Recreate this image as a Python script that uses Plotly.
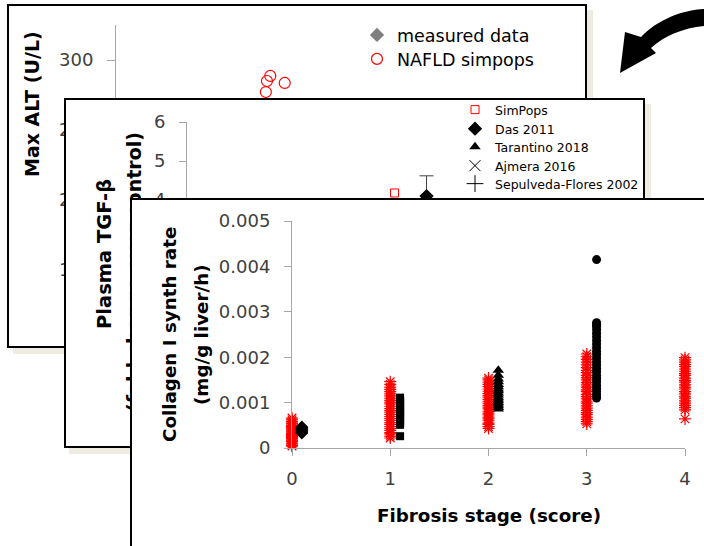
import plotly.graph_objects as go

W, H = 704, 546
FONT = "DejaVu Sans"
AX_GRAY = "#a6a6a6"
TXT_GRAY = "#404040"
SHADOW = "#eeece1"
RED = "#ff0000"

# ---------------- data ----------------
# Panel 1: Max ALT (U/L) -- visible simulated points (rest of the panel is hidden)
alt_sim_stage = [1.39, 1.36, 1.52, 1.35]
alt_sim_value = [288.6, 285.0, 283.6, 277.1]
alt_meas_stage = [1.5, 2.5]
alt_meas_value = [190, 230]

# Panel 2: Plasma TGF-beta (fold control)
tgf_sim_x = [2.01]
tgf_sim_y = [4.18]
tgf_das_x = [2.32]
tgf_das_y = [4.10]
tgf_das_err = [0.52]
tgf_tar_x = [2.6]
tgf_tar_y = [2.4]
tgf_ajm_x = [2.9]
tgf_ajm_y = [1.9]
tgf_sep_x = [3.2]
tgf_sep_y = [1.5]

# Panel 3: Collagen I synthesis rate vs fibrosis stage
stage_ticks = [0, 1, 2, 3, 4]
meas_offset = 0.1

coll_sim_s0 = [0.00004, 0.00006, 0.00009, 0.00011, 0.00014, 0.00016, 0.00018, 0.00021, 0.00023,
               0.00025, 0.00028, 0.00030, 0.00032, 0.00035, 0.00037, 0.00040, 0.00042, 0.00045,
               0.00047, 0.00050, 0.00053, 0.00055, 0.00058, 0.00062, 0.00066]
coll_sim_s1 = [0.00022, 0.00026, 0.00031, 0.00034, 0.00039, 0.00043, 0.00047, 0.00052, 0.00056,
               0.00061, 0.00065, 0.00069, 0.00074, 0.00079, 0.00083, 0.00087, 0.00092, 0.00097,
               0.00101, 0.00105, 0.00110, 0.00115, 0.00119, 0.00124, 0.00129, 0.00134, 0.00140,
               0.00146]
coll_sim_s2 = [0.00043, 0.00047, 0.00052, 0.00055, 0.00060, 0.00064, 0.00068, 0.00073, 0.00077,
               0.00081, 0.00086, 0.00090, 0.00094, 0.00099, 0.00103, 0.00107, 0.00112, 0.00116,
               0.00120, 0.00125, 0.00130, 0.00135, 0.00140, 0.00145, 0.00150, 0.00154]
coll_sim_s3 = [0.00053, 0.00058, 0.00063, 0.00068, 0.00074, 0.00078, 0.00083, 0.00088, 0.00093,
               0.00099, 0.00103, 0.00108, 0.00113, 0.00118, 0.00124, 0.00128, 0.00134, 0.00139,
               0.00144, 0.00150, 0.00155, 0.00160, 0.00166, 0.00171, 0.00177, 0.00183, 0.00189,
               0.00195, 0.00201, 0.00207]
coll_sim_s4 = [0.00064, 0.00084, 0.00089, 0.00094, 0.00099, 0.00104, 0.00110, 0.00114, 0.00119,
               0.00124, 0.00130, 0.00134, 0.00139, 0.00145, 0.00149, 0.00154, 0.00160, 0.00164,
               0.00169, 0.00174, 0.00180, 0.00184, 0.00189, 0.00194, 0.00199]

coll_meas_s0 = [0.00033, 0.00036, 0.00039, 0.00042, 0.00044, 0.00046]
coll_meas_s1 = [0.00026, 0.00051, 0.00055, 0.00059, 0.00063, 0.00067, 0.00071, 0.00075, 0.00079,
                0.00083, 0.00087, 0.00091, 0.00095, 0.00099, 0.00103, 0.00107, 0.00111]
coll_meas_s2 = [0.00086, 0.00089, 0.00093, 0.00097, 0.00100, 0.00104, 0.00108, 0.00112, 0.00117,
                0.00121, 0.00126, 0.00130, 0.00135, 0.00140, 0.00146, 0.00152, 0.00160, 0.00171]
coll_meas_s3 = [0.00110, 0.00117, 0.00124, 0.00131, 0.00138, 0.00146, 0.00153, 0.00160, 0.00168,
                0.00175, 0.00183, 0.00190, 0.00198, 0.00206, 0.00213, 0.00221, 0.00229, 0.00237,
                0.00245, 0.00253, 0.00261, 0.00268, 0.00272, 0.00276, 0.00415]


def fx(p):
    return p / W


def fy(p):
    return 1 - p / H


fig = go.Figure()
layout = {}


def ids(n):
    return ("x" if n == 1 else f"x{n}", "y" if n == 1 else f"y{n}",
            "xaxis" if n == 1 else f"xaxis{n}", "yaxis" if n == 1 else f"yaxis{n}")


def add_frame(n, left, top, right, bottom):
    xs, ys, xk, yk = ids(n)
    fig.add_trace(go.Scatter(x=[None], y=[None], xaxis=xs, yaxis=ys,
                             showlegend=False, hoverinfo="skip"))
    common = dict(range=[0, 1], showline=True, mirror=True, linecolor="black", linewidth=2,
                  showticklabels=False, ticks="", showgrid=False, zeroline=False, fixedrange=True)
    layout[xk] = dict(domain=[fx(left), fx(right)], anchor=ys, **common)
    layout[yk] = dict(domain=[fy(bottom), fy(top)], anchor=xs, **common)


def data_axes(n, left, top, right, bottom, xrange, yrange, ydtick, tickfont=18, yticklen=7,
              ystand=10):
    xs, ys, xk, yk = ids(n)
    base = dict(showline=True, linecolor=AX_GRAY, linewidth=1, ticks="outside",
                tickcolor=AX_GRAY, tickwidth=1, showgrid=False, zeroline=False, fixedrange=True,
                tickfont=dict(family=FONT, size=tickfont, color=TXT_GRAY))
    layout[xk] = dict(domain=[fx(left), fx(right)], anchor=ys, range=xrange, dtick=1, tick0=0,
                      ticklen=7, ticklabelstandoff=7, **base)
    layout[yk] = dict(domain=[fy(bottom), fy(top)], anchor=xs, range=yrange, dtick=ydtick,
                      tick0=0, ticklen=yticklen, ticklabelstandoff=ystand, **base)
    return xs, ys


# ---- Panel 1 ----
add_frame(1, 9, 6, 585, 346)
x2, y2 = data_axes(2, 116, 25, 560, 305, [0, 4], [125, 325], 50, yticklen=8)
fig.add_trace(go.Scatter(x=alt_meas_stage, y=alt_meas_value, xaxis=x2, yaxis=y2, mode="markers",
                         name="measured data", legend="legend",
                         marker=dict(symbol="diamond", size=11, color="#7f7f7f")))
fig.add_trace(go.Scatter(x=alt_sim_stage, y=alt_sim_value, xaxis=x2, yaxis=y2, mode="markers",
                         name="NAFLD simpops", legend="legend2",
                         marker=dict(symbol="circle-open", size=11, color=RED,
                                     line=dict(width=1.2, color=RED))))

# ---- Panel 2 ----
add_frame(3, 66, 100, 643, 446)
x4, y4 = data_axes(4, 187, 122, 600, 356, [0, 4], [0, 6], 1)
fig.add_trace(go.Scatter(x=tgf_sim_x, y=tgf_sim_y, xaxis=x4, yaxis=y4, mode="markers",
                         name="SimPops", legend="legend3",
                         marker=dict(symbol="square-open", size=8, color=RED,
                                     line=dict(width=1, color=RED))))
fig.add_trace(go.Scatter(x=tgf_das_x, y=tgf_das_y, xaxis=x4, yaxis=y4, mode="markers",
                         name="Das 2011", legend="legend4",
                         error_y=dict(type="data", array=tgf_das_err, color="#404040",
                                      thickness=1, width=7),
                         marker=dict(symbol="diamond", size=11, color="black")))
fig.add_trace(go.Scatter(x=tgf_tar_x, y=tgf_tar_y, xaxis=x4, yaxis=y4, mode="markers",
                         name="Tarantino 2018", legend="legend5",
                         marker=dict(symbol="triangle-up", size=10, color="black")))
fig.add_trace(go.Scatter(x=tgf_ajm_x, y=tgf_ajm_y, xaxis=x4, yaxis=y4, mode="markers",
                         name="Ajmera 2016", legend="legend6",
                         marker=dict(symbol="x-thin", size=11, color="black",
                                     line=dict(width=1, color="black"))))
fig.add_trace(go.Scatter(x=tgf_sep_x, y=tgf_sep_y, xaxis=x4, yaxis=y4, mode="markers",
                         name="Sepulveda-Flores 2002", legend="legend7",
                         marker=dict(symbol="cross-thin", size=12, color="black",
                                     line=dict(width=1, color="black"))))

# ---- Panel 3 ----
add_frame(5, 132, 200, 704, 546)
x6, y6 = data_axes(6, 292, 221, 685, 448, [0, 4], [0, 0.005], 0.001)
layout["xaxis6"]["tickvals"] = stage_ticks

sim_cols = [coll_sim_s0, coll_sim_s1, coll_sim_s2, coll_sim_s3, coll_sim_s4]
for st, vals in zip(stage_ticks, sim_cols):
    fig.add_trace(go.Scatter(x=[st] * len(vals), y=vals, xaxis=x6, yaxis=y6, mode="markers",
                             showlegend=False, cliponaxis=False, hoverinfo="skip",
                             marker=dict(symbol="asterisk-open", size=10, color=RED,
                                         line=dict(width=1.2, color=RED))))

meas_cols = [(coll_meas_s0, "diamond", 10), (coll_meas_s1, "square", 8),
             (coll_meas_s2, "triangle-up", 10), (coll_meas_s3, "circle", 9)]
for st, (vals, sym, sz) in zip(stage_ticks, meas_cols):
    fig.add_trace(go.Scatter(x=[st + meas_offset] * len(vals), y=vals, xaxis=x6, yaxis=y6,
                             mode="markers", showlegend=False, cliponaxis=False,
                             hoverinfo="skip",
                             marker=dict(symbol=sym, size=sz, color="black")))

# ---------------- legends ----------------
def leg(x_text, y_center, size):
    return dict(x=fx(x_text - 40), y=fy(y_center), xanchor="left", yanchor="middle",
                bgcolor="rgba(0,0,0,0)", borderwidth=0,
                font=dict(family=FONT, size=size, color="black"))


layout["legend"] = leg(397, 35, 17.5)
layout["legend2"] = leg(397, 59, 17.5)
for i, yc in zip(range(3, 8), [110, 129, 147, 166, 184]):
    layout[f"legend{i}"] = leg(495, yc, 12.5)

# ---------------- shapes (shadows, arrow, hidden title line) ----------------
def rect_px(x0, y0, x1, y1, color):
    return dict(type="rect", xref="paper", yref="paper", x0=fx(x0), x1=fx(x1), y0=fy(y1),
                y1=fy(y0), line=dict(width=0), fillcolor=color, layer="below")


shapes = [
    rect_px(587, 10, 593, 120, SHADOW),
    rect_px(13, 348, 80, 354, SHADOW),
    rect_px(645, 104, 651, 220, SHADOW),
    rect_px(69, 448, 140, 454, SHADOW),
]

arrow_pts = [("M", 704, 9), ("C", 682, 10), ("", 657, 20), ("", 641, 37), ("L", 625, 32),
             ("L", 620, 73), ("L", 656, 53), ("L", 651, 48), ("C", 664, 36), ("", 683, 28),
             ("", 704, 26)]
path = " ".join(f"{c} {fx(x):.5f},{fy(y):.5f}" if c else f"{fx(x):.5f},{fy(y):.5f}"
                for c, x, y in arrow_pts) + " Z"
shapes.append(dict(type="path", xref="paper", yref="paper", path=path, fillcolor="black",
                   line=dict(width=0), layer="above"))

# second line of panel-2 y title: drawn inside panel-2 frame so panel 3 hides it
F2_L, F2_T, F2_W, F2_H = 66, 100, 577, 346
t2_cx, t2_cy = 133, 272
shapes.append(dict(type="rect", xref="x3", yref="y3",
                   x0=(t2_cx - 10 - F2_L) / F2_W, x1=(t2_cx + 10 - F2_L) / F2_W,
                   y0=1 - (t2_cy + 40 - F2_T) / F2_H, y1=1 - (t2_cy - 40 - F2_T) / F2_H,
                   layer="below", line=dict(width=0), fillcolor="rgba(0,0,0,0)",
                   label=dict(text="(fold change over control)", textangle=-90,
                              textposition="middle center", padding=0,
                              font=dict(family=FONT, size=19, color="black", weight="bold"))))

# ---------------- annotations (titles) ----------------
def title(text, x, y, size, angle=-90):
    return dict(text=text, x=fx(x), y=fy(y), xref="paper", yref="paper", showarrow=False,
                textangle=angle, xanchor="center", yanchor="middle",
                font=dict(family=FONT, size=size, color="black", weight="bold"))


annotations = [
    title("Max ALT (U/L)", 32, 104, 19),
    title("Plasma TGF-β", 104, 254, 19.5),
    title("Collagen I synth rate", 169, 335, 18.3),
    title("(mg/g liver/h)", 201, 335, 18.3),
    title("Fibrosis stage (score)", 489, 515, 18.3, angle=0),
]

fig.update_layout(
    width=W, height=H, autosize=False,
    margin=dict(l=0, r=0, t=0, b=0, pad=0, autoexpand=False),
    paper_bgcolor="#ffffff", plot_bgcolor="#ffffff",
    showlegend=True,
    shapes=shapes, annotations=annotations,
    **layout,
)

fig.write_html("out.html", config={"displayModeBar": False},
               post_script="document.body.style.margin='0px';")
